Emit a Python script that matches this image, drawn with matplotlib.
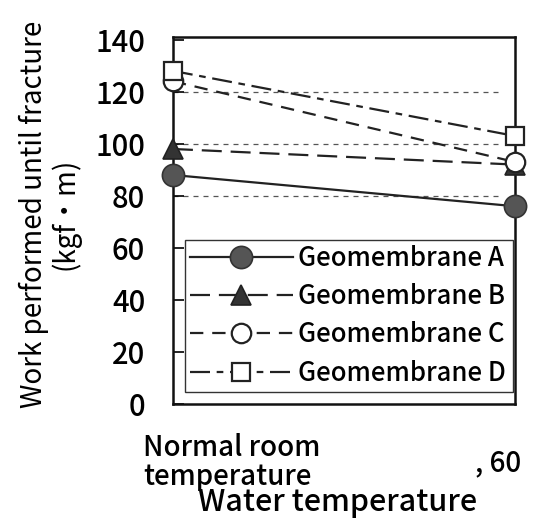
import matplotlib
matplotlib.use("Agg")
import matplotlib.pyplot as plt
import matplotlib.transforms as mtransforms

plt.rcParams['font.family'] = ['Noto Sans CJK JP', 'DejaVu Sans']
plt.rcParams['font.weight'] = 'medium'

# Data
temps = ["Normal room\ntemperature", ", 60"]
series_names = ["Geomembrane A", "Geomembrane B", "Geomembrane C", "Geomembrane D"]
work_a = [88, 76]
work_b = [98, 92]
work_c = [124, 93]
work_d = [128, 103]
y_ticks = [0, 20, 40, 60, 80, 100, 120, 140]
grid_levels = [80, 100, 120]

fig = plt.figure(figsize=(5.37, 5.22), dpi=100)
ax = fig.add_axes([0.322, 0.226, 0.637, 0.703])

x = [0, 1]
line_col = "#222222"

# reference dashed lines
ax.hlines(grid_levels, 0, 0.96, colors="#555555", linewidth=0.9,
          linestyles=(0, (4, 4)), zorder=1)

ax.plot(x, work_a, color=line_col, lw=1.6, ls="-", marker="o", ms=16,
        mfc="#555555", mec="#333333", mew=1.2, clip_on=False, zorder=3,
        label=series_names[0])
ax.plot(x, work_b, color=line_col, lw=1.6, ls=(0, (9, 4)), marker="^", ms=14,
        mfc="#333333", mec="#222222", mew=1.2, clip_on=False, zorder=3,
        label=series_names[1])
ax.plot(x, work_c, color=line_col, lw=1.6, ls=(0, (6, 4)), marker="o", ms=14,
        mfc="white", mec="#222222", mew=1.6, clip_on=False, zorder=4,
        label=series_names[2])
ax.plot(x, work_d, color=line_col, lw=1.6, ls=(0, (9, 3, 3, 3)), marker="s", ms=13,
        mfc="white", mec="#222222", mew=1.6, clip_on=False, zorder=4,
        label=series_names[3])

ax.set_xlim(0, 1)
ax.set_ylim(0, 141)
ax.set_yticks(y_ticks)
ax.tick_params(axis="y", direction="in", length=8, width=1.2, pad=20,
               labelsize=21)
ax.set_xticks(x)
ax.set_xticklabels(temps, fontsize=20, linespacing=1.0)
ax.tick_params(axis="x", length=0, pad=42)
labels = ax.get_xticklabels()
labels[0].set_ha("left")
labels[0].set_va("center")
labels[0].set_transform(labels[0].get_transform() +
                        mtransforms.ScaledTranslation(-0.30, 0, fig.dpi_scale_trans))
labels[1].set_va("center")
labels[1].set_transform(labels[1].get_transform() +
                        mtransforms.ScaledTranslation(-0.17, 0, fig.dpi_scale_trans))

for sp in ax.spines.values():
    sp.set_linewidth(1.8)
    sp.set_color("#111111")

ax.set_ylabel("Work performed until fracture\n(kgf・m)", fontsize=20,
              linespacing=1.05)
ax.yaxis.set_label_coords(-0.27, 0.518)

fig.text(0.628, 1 - 502 / 522, "Water temperature", ha="center", va="center",
         fontsize=22)

leg = ax.legend(loc="lower left", bbox_to_anchor=(0.035, 0.033, 0.959, 0.427),
                mode="expand", fontsize=18.5, handlelength=4.0, handletextpad=0.2,
                labelspacing=0.44, borderpad=0.2, borderaxespad=0,
                fancybox=False, framealpha=1, edgecolor="#333333")
leg.get_frame().set_linewidth(1.0)
leg.set_zorder(5)

fig.savefig("out.png", dpi=100)
